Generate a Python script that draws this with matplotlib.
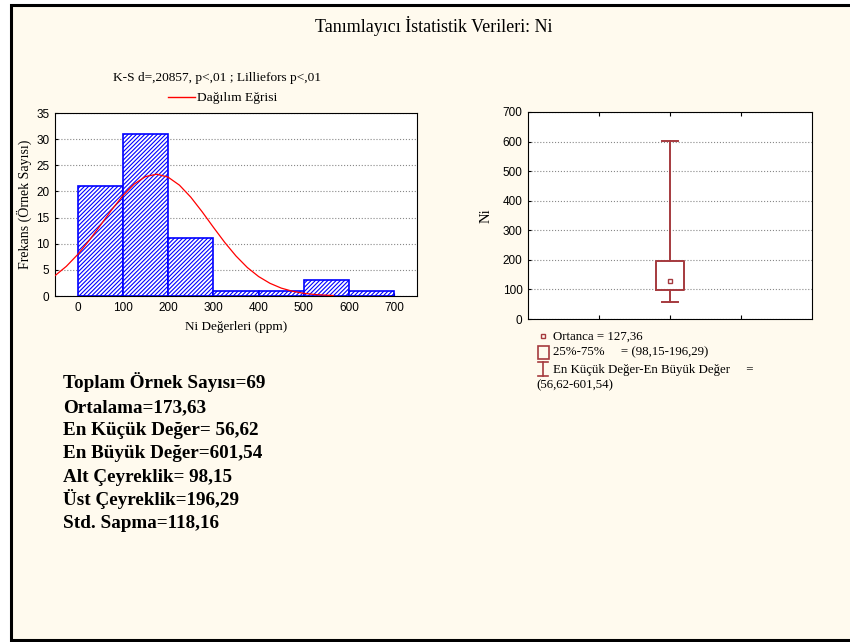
import matplotlib.pyplot as plt
from matplotlib.patches import Rectangle
from matplotlib.lines import Line2D

plt.rcParams['font.family'] = ['Liberation Serif', 'DejaVu Serif']
plt.rcParams['hatch.linewidth'] = 0.8

# histogram of Ni values (ppm)
bin_left = [0, 100, 200, 300, 400, 500, 600]
counts = [21, 31, 11, 1, 1, 3, 1]

# distribution curve
curve_x = [-50, -25, 0, 25, 50, 75, 100, 125, 150, 175, 200, 225, 250, 275,
           300, 325, 350, 375, 400, 425, 450, 475, 500, 525, 550, 565]
curve_y = [3.89, 5.67, 7.92, 10.56, 13.48, 16.45, 19.19, 21.41, 22.84, 23.30,
           22.73, 21.20, 18.91, 16.13, 13.15, 10.26, 7.65, 5.45, 3.72, 2.43,
           1.51, 0.90, 0.51, 0.28, 0.15, 0.09]

# box plot summary
median = 127.36
q1, q3 = 98.15, 196.29
vmin, vmax = 56.62, 601.54

title = "Tanımlayıcı İstatistik Verileri: Ni"
hist_title = "K-S d=,20857, p<,01 ; Lilliefors p<,01"
stats_lines = ["Toplam Örnek Sayısı=69", "Ortalama=173,63", "En Küçük Değer= 56,62",
               "En Büyük Değer=601,54", "Alt Çeyreklik= 98,15", "Üst Çeyreklik=196,29",
               "Std. Sapma=118,16"]
box_legend = ["Ortanca = 127,36", "25%-75%     = (98,15-196,29)",
              "En Küçük Değer-En Büyük Değer     =", "(56,62-601,54)"]

W, H = 850, 642
def fx(px):
    return px / W
def fy(py):
    return 1 - py / H

bg = '#FFFAEE'
boxc = '#A53A3E'
sans = 'Liberation Sans'

fig = plt.figure(figsize=(8.5, 6.42), dpi=100, facecolor='white')
fig.patches.append(Rectangle((fx(11), fy(640)), 1.0, fy(5) - fy(640),
                             transform=fig.transFigure, facecolor=bg,
                             edgecolor='black', lw=2.2, zorder=-10))

fig.text(fx(434), fy(32), title, ha='center', va='baseline', fontsize=13)

# histogram
ax1 = fig.add_axes([fx(55), fy(296), (417 - 55) / W, (296 - 113) / H])
ax1.bar(bin_left, counts, width=100, align='edge', facecolor='white',
        edgecolor='blue', hatch='////////', lw=1.2, zorder=2)
ax1.plot(curve_x, curve_y, color='red', lw=0.9, zorder=3)
ax1.set_xlim(-50, 750)
ax1.set_ylim(0, 35)
ax1.set_xticks(range(0, 701, 100))
ax1.set_yticks(range(0, 36, 5))
ax1.yaxis.grid(True, ls=':', color='#888888', lw=0.8)
ax1.set_axisbelow(True)
ax1.tick_params(direction='in', length=2, labelsize=8.5, pad=4)
for lab in ax1.get_xticklabels() + ax1.get_yticklabels():
    lab.set_fontfamily(sans)
ax1.set_xlabel("Ni Değerleri (ppm)", fontsize=9.5, labelpad=5)
ax1.set_ylabel("Frekans (Örnek Sayısı)", fontsize=10, labelpad=3)

fig.text(fx(217), fy(81), hist_title, ha='center', va='baseline', fontsize=9.6)
fig.add_artist(Line2D([fx(168), fx(195)], [fy(97), fy(97)], color='red', lw=1))
fig.text(fx(197), fy(100.5), "Dağılım Eğrisi", ha='left', va='baseline', fontsize=9.7)

# box plot
ax2 = fig.add_axes([fx(528), fy(319), (812 - 528) / W, (319 - 112) / H])
ax2.bxp([{'med': median, 'q1': q1, 'q3': q3, 'whislo': vmin, 'whishi': vmax,
          'fliers': []}], positions=[2], widths=0.4, capwidths=0.23,
        showfliers=False, manage_ticks=False,
        boxprops=dict(color=boxc, lw=1.4),
        whiskerprops=dict(color=boxc, lw=1.4),
        capprops=dict(color=boxc, lw=1.4),
        medianprops=dict(visible=False))
ax2.plot([2], [median], 's', mfc='none', mec=boxc, ms=3.5, mew=1)
ax2.set_xlim(0, 4)
ax2.set_ylim(0, 700)
ax2.set_xticks([1, 2, 3])
ax2.set_xticklabels([])
ax2.set_yticks(range(0, 701, 100))
ax2.yaxis.grid(True, ls=':', color='#888888', lw=0.8)
ax2.set_axisbelow(True)
ax2.tick_params(axis='x', direction='in', length=3, top=True)
ax2.tick_params(axis='y', direction='in', length=2, labelsize=8.5, pad=4)
for lab in ax2.get_yticklabels():
    lab.set_fontfamily(sans)
ax2.set_ylabel("Ni", fontsize=10.5, labelpad=7)

# box plot legend
fs = 9.3
fig.add_artist(Line2D([fx(543)], [fy(336)], marker='s', mfc='none', mec=boxc,
                      ms=3, mew=1))
fig.text(fx(553), fy(339.5), box_legend[0], va='baseline', fontsize=fs)
fig.patches.append(Rectangle((fx(538), fy(359)), 11 / W, 13 / H,
                             transform=fig.transFigure, facecolor='none',
                             edgecolor=boxc, lw=1.2))
fig.text(fx(553), fy(355.5), box_legend[1], va='baseline', fontsize=fs)
fig.add_artist(Line2D([fx(543), fx(543)], [fy(362), fy(376)], color=boxc, lw=1.2))
fig.add_artist(Line2D([fx(538), fx(548)], [fy(362), fy(362)], color=boxc, lw=1.2))
fig.add_artist(Line2D([fx(538), fx(548)], [fy(376), fy(376)], color=boxc, lw=1.2))
fig.text(fx(553), fy(372.5), box_legend[2], va='baseline', fontsize=fs)
fig.text(fx(536), fy(388.5), box_legend[3], va='baseline', fontsize=fs)

# summary statistics
for i, line in enumerate(stats_lines):
    fig.text(fx(63), fy(388.5 + 23.3 * i), line, va='baseline', fontsize=13.8,
             fontweight='bold')

fig.savefig('out.png', dpi=100, facecolor=fig.get_facecolor())
